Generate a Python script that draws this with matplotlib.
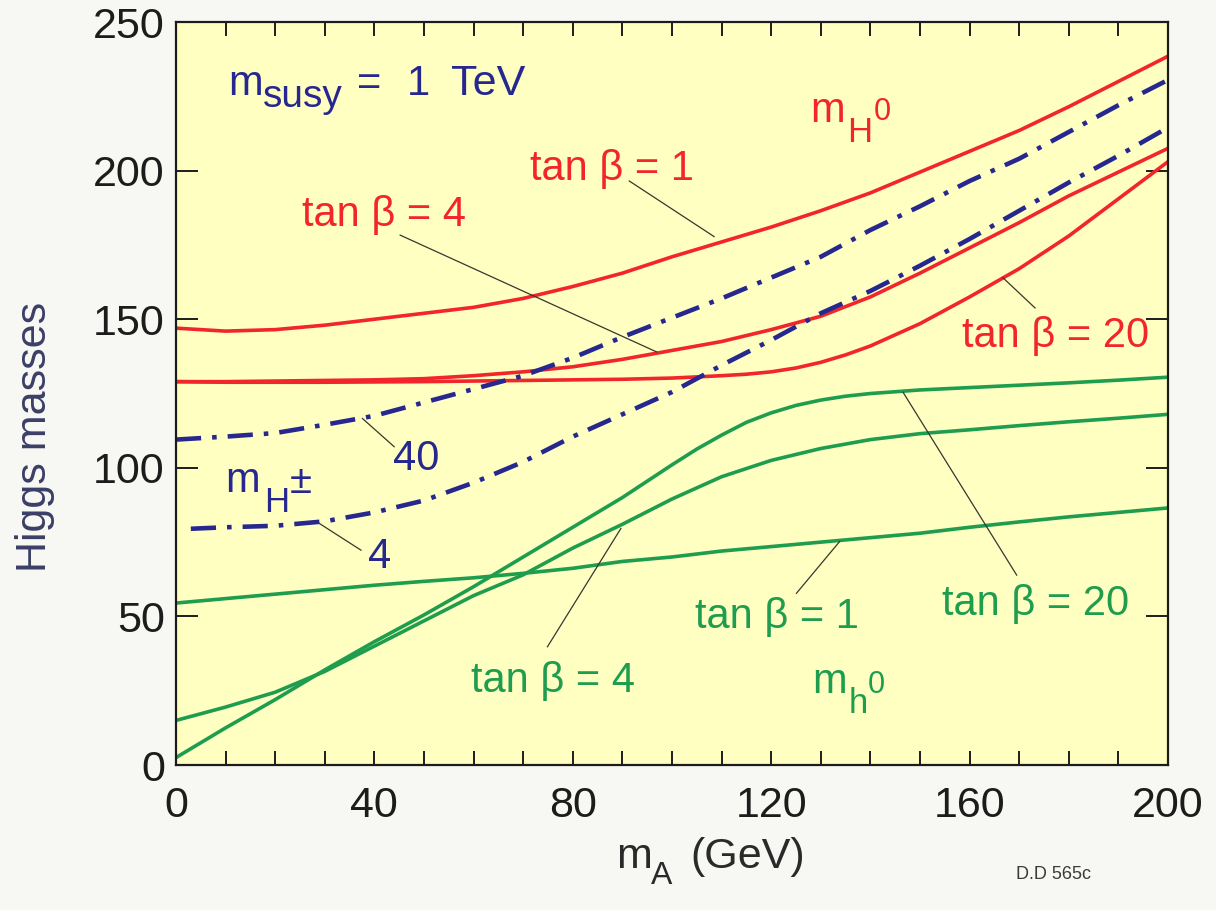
import matplotlib
matplotlib.use("Agg")
import matplotlib.pyplot as plt
from matplotlib.ticker import MultipleLocator

plt.rcParams['font.family'] = ['Liberation Sans', 'DejaVu Sans']

# m_A grid (GeV)
mA = [0, 10, 20, 30, 40, 50, 60, 70, 80, 90, 100, 110, 120, 130, 140, 150, 160, 170, 180, 190, 200]

# heavy neutral Higgs m_H0
mH0_tb1 = [147, 146, 146.5, 148, 150, 152, 154, 157, 161, 165.5, 171, 176, 181, 186.5, 192.5,
           199.5, 206.5, 213.5, 221.5, 230, 238.5]
mH0_tb4 = [129, 129, 129.2, 129.4, 129.6, 130, 131, 132.3, 134, 136.5, 139.5, 142.5, 146.5, 151,
           157.5, 165.5, 174, 182.5, 191.5, 199.5, 207.5]
mA_H20 = [0, 10, 20, 30, 40, 50, 60, 70, 80, 90, 100, 110, 115, 120, 125, 130, 135, 140, 150, 160,
          170, 180, 190, 200]
mH0_tb20 = [129, 128.8, 128.8, 128.8, 128.9, 129, 129.2, 129.4, 129.6, 129.8, 130.2, 131, 131.5,
            132.3, 133.6, 135.5, 138, 141, 148.5, 157.5, 167, 178, 190.5, 203]

# charged Higgs m_H+-
mHc_tb40 = [109.5, 110.5, 111.7, 114.5, 117.5, 122, 126.5, 131, 137, 144, 150.5, 157, 164, 171,
            180, 188, 196.5, 204, 213, 222, 230.5]
mA_c4 = [3, 10, 20, 30, 40, 50, 60, 70, 80, 90, 100, 110, 120, 130, 140, 150, 160, 170, 180, 190, 200]
mHc_tb4 = [79.5, 80, 80.5, 82, 85, 89, 95, 102, 110.5, 118, 125.5, 134.5, 143, 152, 159.5, 168,
           177, 186.5, 196, 205, 214.5]

# light neutral Higgs m_h0
mh0_tb1 = [54.5, 56, 57.5, 59, 60.5, 61.8, 63, 64.5, 66.2, 68.5, 70, 72, 73.5, 75, 76.5, 78, 80,
           81.8, 83.5, 85, 86.5]
mh0_tb4 = [15, 19.5, 24.5, 31.5, 40, 48.5, 57, 64, 73, 81, 89.5, 97, 102.5, 106.5, 109.5, 111.5,
           112.8, 114.2, 115.5, 116.7, 118]
mA_h20 = [0, 10, 20, 30, 40, 50, 60, 70, 80, 90, 100, 105, 110, 115, 120, 125, 130, 135, 140, 150,
          160, 170, 180, 190, 200]
mh0_tb20 = [2.5, 12.5, 22, 32, 41.5, 50.5, 60, 70, 80, 90, 101, 106.3, 111, 115.3, 118.5, 121,
            122.8, 124.1, 125, 126.2, 127, 127.8, 128.6, 129.5, 130.5]

red = '#f2262a'
blue = '#27288f'
green = '#1f9d4f'
ink = '#1c1c1c'

fig = plt.figure(figsize=(12.16, 9.10), dpi=100, facecolor='#f7f7f3')
ax = fig.add_axes([0.1447, 0.1593, 0.8158, 0.8165])
ax.set_facecolor('#ffffc2')

ax.plot(mA, mH0_tb1, color=red, lw=2.6)
ax.plot(mA, mH0_tb4, color=red, lw=2.6)
ax.plot(mA_H20, mH0_tb20, color=red, lw=2.6)

dashdot = (0, (5.5, 2.4, 1.0, 2.4))
ax.plot(mA, mHc_tb40, color=blue, lw=3.3, ls=dashdot, dash_capstyle='butt')
ax.plot(mA_c4, mHc_tb4, color=blue, lw=3.3, ls=dashdot, dash_capstyle='butt')

ax.plot(mA, mh0_tb1, color=green, lw=2.6)
ax.plot(mA, mh0_tb4, color=green, lw=2.6)
ax.plot(mA_h20, mh0_tb20, color=green, lw=2.6)

ax.set_xlim(0, 200)
ax.set_ylim(0, 250)

# thin leader lines from the labels to the curves
leaders = [
    ((91.4, 196.5), (108.5, 177.8)),
    ((45.2, 178.3), (96.9, 139.0)),
    ((166.7, 164.0), (173.2, 153.8)),
    ((37.6, 116.6), (44.0, 107.1)),
    ((28.9, 81.3), (37.3, 72.3)),
    ((133.8, 75.2), (125.1, 57.8)),
    ((146.6, 125.4), (169.5, 63.9)),
    ((89.7, 79.6), (74.9, 39.8)),
]
for (x0, y0), (x1, y1) in leaders:
    ax.plot([x0, x1], [y0, y1], color='#3a3530', lw=0.9)


def put(parts, color, trans=None):
    # each part: (x, y, text, size), baseline anchored
    for x, y, s, size in parts:
        if trans is None:
            ax.text(x, y, s, color=color, fontsize=size, va='baseline')
        else:
            fig.text(x, y, s, color=color, fontsize=size, va='baseline')


fs = 30
put([(10.5, 225.4, 'm', 30), (17.5, 221.4, 'susy', 28), (36.6, 225.4, '=', 30),
     (46.6, 225.4, '1', 30), (55.4, 225.4, 'TeV', 31)], blue)
put([(127.8, 216.4, 'm', 30), (135.3, 209.6, 'H', 25), (140.6, 217.0, '0', 22)], red)
put([(9.9, 91.9, 'm', 30), (17.8, 85.2, 'H', 25), (23.0, 91.5, '±', 29)], blue)
put([(128.2, 24.2, 'm', 30), (135.6, 17.5, 'h', 25), (139.5, 24.2, '0', 22)], green)

ax.text(71.4, 196.8, 'tan β = 1', color=red, fontsize=fs, va='baseline')
ax.text(25.4, 181.5, 'tan β = 4', color=red, fontsize=fs, va='baseline')
ax.text(158.5, 140.5, 'tan β = 20', color=red, fontsize=fs, va='baseline')
ax.text(43.8, 99.3, '40', color=blue, fontsize=fs, va='baseline')
ax.text(38.7, 66.3, '4', color=blue, fontsize=fs, va='baseline')
ax.text(104.6, 46.0, 'tan β = 1', color=green, fontsize=fs, va='baseline')
ax.text(154.4, 50.5, 'tan β = 20', color=green, fontsize=fs, va='baseline')
ax.text(59.5, 24.6, 'tan β = 4', color=green, fontsize=fs, va='baseline')

ax.xaxis.set_major_locator(MultipleLocator(40))
ax.xaxis.set_minor_locator(MultipleLocator(10))
ax.yaxis.set_major_locator(MultipleLocator(50))
ax.tick_params(axis='x', which='both', direction='in', top=True, length=10, width=1.4,
               color=ink, labelsize=31, labelcolor=ink, pad=15)
ax.tick_params(axis='y', which='major', direction='in', right=True, length=16, width=1.4,
               color=ink, labelsize=31, labelcolor=ink, pad=8)
for s in ax.spines.values():
    s.set_linewidth(1.6)
    s.set_color(ink)

ax.text(-0.142, 0.441, 'Higgs masses', transform=ax.transAxes, rotation=90, fontsize=31,
        color='#3b3e66', ha='center', va='center')
put([(0.5066, 0.0462, 'm', 31), (0.5350, 0.0286, 'A', 23), (0.5674, 0.0462, '(GeV)', 31)],
    '#2a2a2a', trans='fig')
fig.text(0.866, 0.0385, 'D.D 565c', fontsize=13, color='#3a3a3a', ha='center', va='center')

fig.savefig('out.png', dpi=100, facecolor=fig.get_facecolor())
